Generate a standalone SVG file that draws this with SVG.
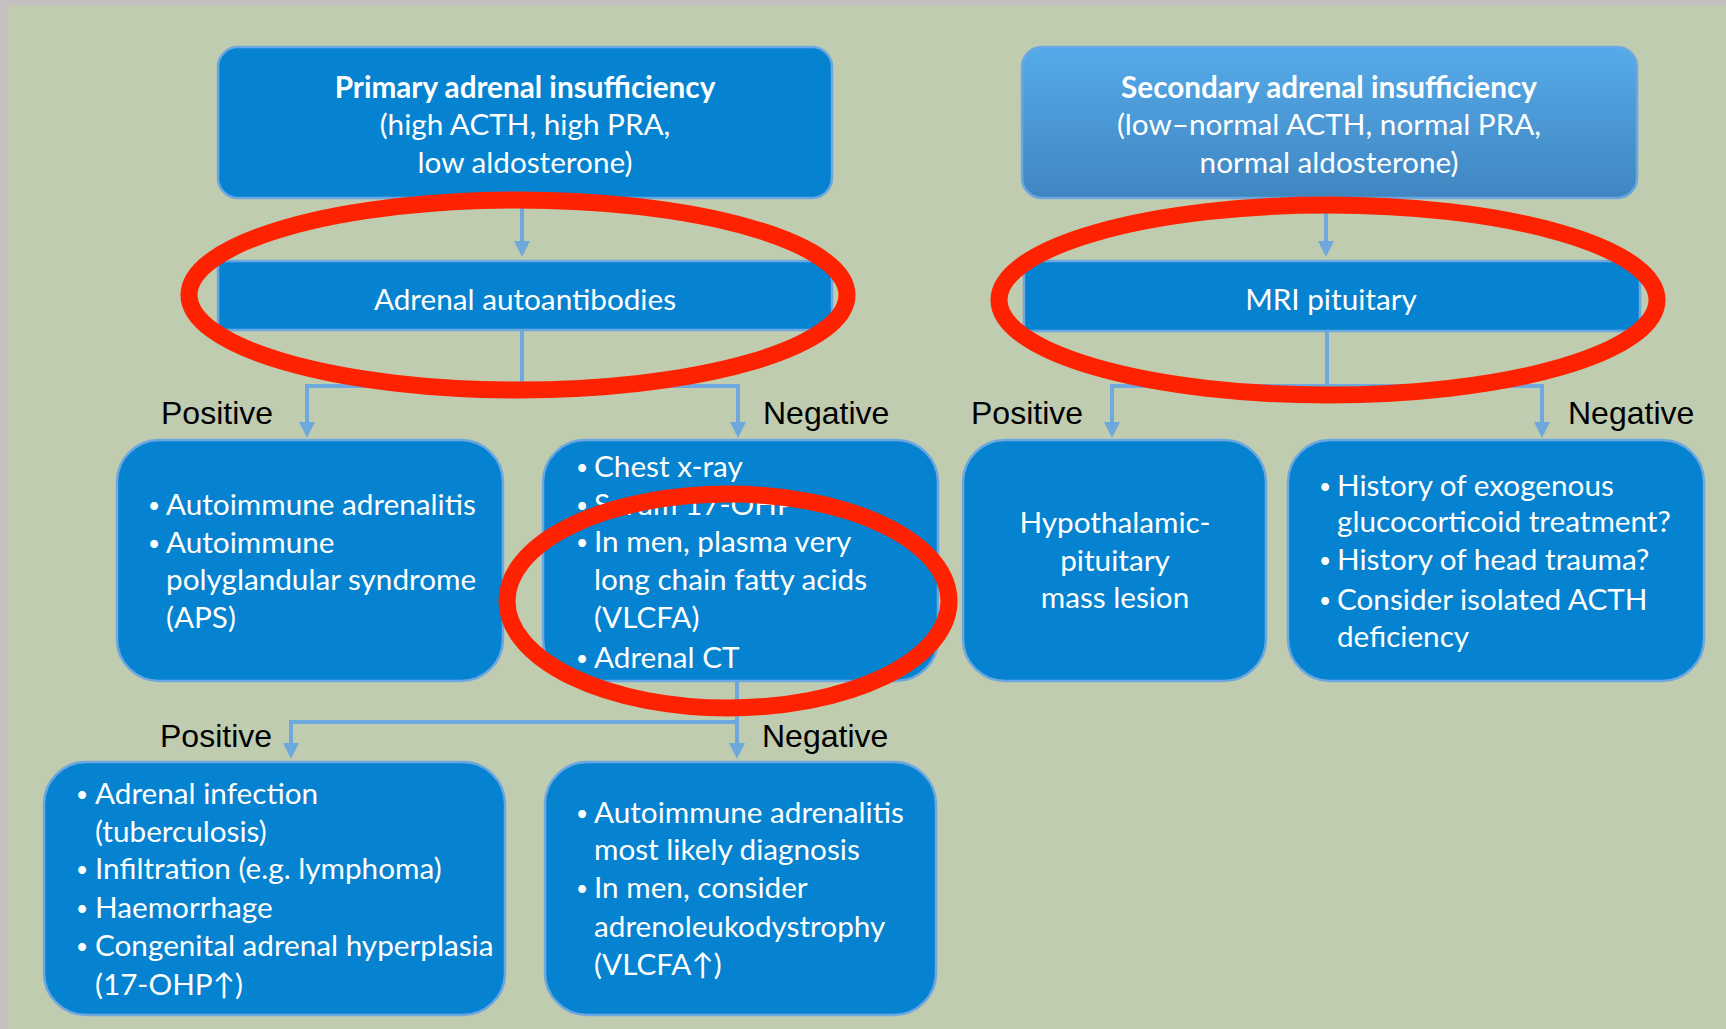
<svg xmlns="http://www.w3.org/2000/svg" width="1726" height="1029" viewBox="0 0 1726 1029">
<defs>
<linearGradient id="gSec" x1="0" y1="0" x2="0" y2="1">
<stop offset="0" stop-color="#56AAE9"/>
<stop offset="1" stop-color="#3F86C1"/>
</linearGradient>
<marker id="arr" viewBox="0 0 16 16" markerUnits="userSpaceOnUse" markerWidth="16" markerHeight="16" refX="0" refY="8" orient="auto">
<path d="M0 0 L16 8 L0 16 z" fill="#6FA8DC"/>
</marker>
</defs>
<style>
.box{fill:#0683D0;stroke:#6CA7E0;stroke-width:2.5}
.sec{fill:url(#gSec);stroke:#6CA7E0;stroke-width:2.5}
.t{font-family:Lato,"Open Sans","Liberation Sans",sans-serif;font-size:29.7px;fill:#FFFFFF}
.c{text-anchor:middle}
.b{font-weight:bold}
.bu{font-family:Lato,"Liberation Sans",sans-serif;font-size:21px;fill:#FFFFFF}
.lbl{font-family:"Liberation Sans",Arial,sans-serif;font-size:32px;fill:#000000}
.con{fill:none;stroke:#6FA8DC;stroke-width:4}
.ring{fill:none;stroke:#FF2200;stroke-width:17}
</style>
<rect x="0" y="0" width="1726" height="1029" fill="#C5C1C0"/>
<rect x="8" y="6" width="1718" height="1023" fill="#BFCCB0"/>

<g id="connectors">
<path class="con" d="M522 198 V241" marker-end="url(#arr)"/>
<path class="con" d="M522 330 V386 H307 V422" marker-end="url(#arr)"/>
<path class="con" d="M522 386 H738 V422" marker-end="url(#arr)"/>
<path class="con" d="M1326 198 V241" marker-end="url(#arr)"/>
<path class="con" d="M1327 331 V386 H1112 V422" marker-end="url(#arr)"/>
<path class="con" d="M1327 386 H1542 V422" marker-end="url(#arr)"/>
<path class="con" d="M737 681 V722 H291 V743" marker-end="url(#arr)"/>
<path class="con" d="M737 722 V743" marker-end="url(#arr)"/>
</g>

<g id="labels">
<text class="lbl" x="161" y="424">Positive</text>
<text class="lbl" x="763" y="424">Negative</text>
<text class="lbl" x="971" y="424">Positive</text>
<text class="lbl" x="1568" y="424">Negative</text>
<text class="lbl" x="160" y="747">Positive</text>
<text class="lbl" x="762" y="747">Negative</text>
</g>

<g id="primary">
<rect class="box" x="218" y="47" width="614" height="151" rx="20"/>
<text class="t c b" x="525" y="98">Primary adrenal insufficiency</text>
<text class="t c" x="525" y="135">(high ACTH, high PRA,</text>
<text class="t c" x="525" y="173">low aldosterone)</text>
</g>

<g id="secondary">
<rect class="sec" x="1022" y="47" width="615" height="151" rx="20"/>
<text class="t c b" x="1329" y="98">Secondary adrenal insufficiency</text>
<text class="t c" x="1329" y="135">(low–normal ACTH, normal PRA,</text>
<text class="t c" x="1329" y="173">normal aldosterone)</text>
</g>

<g id="autoantibodies">
<rect class="box" x="218" y="261" width="614" height="69" rx="4"/>
<text class="t c" x="525" y="310">Adrenal autoantibodies</text>
</g>

<g id="mri">
<rect class="box" x="1024" y="261" width="616" height="70" rx="4"/>
<text class="t c" x="1331" y="310">MRI pituitary</text>
</g>

<g id="autoimmune">
<rect class="box" x="117" y="440" width="386" height="241" rx="42"/>
<text class="bu" x="148" y="513">•</text>
<text class="t" x="166" y="515">Autoimmune adrenalitis</text>
<text class="bu" x="148" y="551">•</text>
<text class="t" x="166" y="553">Autoimmune</text>
<text class="t" x="166" y="590">polyglandular syndrome</text>
<text class="t" x="166" y="628">(APS)</text>
</g>

<g id="tests">
<rect class="box" x="543" y="440" width="395" height="241" rx="42"/>
<text class="bu" x="576" y="475">•</text>
<text class="t" x="594" y="477">Chest x-ray</text>
<text class="bu" x="576" y="513">•</text>
<text class="t" x="594" y="515">Serum 17-OHP</text>
<text class="bu" x="576" y="550">•</text>
<text class="t" x="594" y="552">In men, plasma very</text>
<text class="t" x="594" y="590">long chain fatty acids</text>
<text class="t" x="594" y="628">(VLCFA)</text>
<text class="bu" x="576" y="666">•</text>
<text class="t" x="594" y="668">Adrenal CT</text>
</g>

<g id="mass">
<rect class="box" x="963" y="440" width="303" height="241" rx="42"/>
<text class="t c" x="1115" y="533">Hypothalamic-</text>
<text class="t c" x="1115" y="571">pituitary</text>
<text class="t c" x="1115" y="608">mass lesion</text>
</g>

<g id="history">
<rect class="box" x="1288" y="440" width="416" height="241" rx="42"/>
<text class="bu" x="1319" y="494">•</text>
<text class="t" x="1337" y="496">History of exogenous</text>
<text class="t" x="1337" y="532">glucocorticoid treatment?</text>
<text class="bu" x="1319" y="568">•</text>
<text class="t" x="1337" y="570">History of head trauma?</text>
<text class="bu" x="1319" y="608">•</text>
<text class="t" x="1337" y="610">Consider isolated ACTH</text>
<text class="t" x="1337" y="647">deficiency</text>
</g>

<g id="causes">
<rect class="box" x="44" y="762" width="461" height="253" rx="42"/>
<text class="bu" x="76" y="802">•</text>
<text class="t" x="95" y="804">Adrenal infection</text>
<text class="t" x="95" y="842">(tuberculosis)</text>
<text class="bu" x="76" y="877">•</text>
<text class="t" x="95" y="879">Infiltration (e.g. lymphoma)</text>
<text class="bu" x="76" y="916">•</text>
<text class="t" x="95" y="918">Haemorrhage</text>
<text class="bu" x="76" y="954">•</text>
<text class="t" x="95" y="956">Congenital adrenal hyperplasia</text>
<text class="t" x="95" y="995">(17-OHP↑)</text>
</g>

<g id="likely">
<rect class="box" x="545" y="762" width="391" height="253" rx="42"/>
<text class="bu" x="576" y="821">•</text>
<text class="t" x="594" y="823">Autoimmune adrenalitis</text>
<text class="t" x="594" y="860">most likely diagnosis</text>
<text class="bu" x="576" y="896">•</text>
<text class="t" x="594" y="898">In men, consider</text>
<text class="t" x="594" y="937">adrenoleukodystrophy</text>
<text class="t" x="594" y="975">(VLCFA↑)</text>
</g>

<g id="highlights">
<ellipse class="ring" cx="518" cy="295" rx="329" ry="95"/>
<ellipse class="ring" cx="1328" cy="300" rx="329" ry="95"/>
<ellipse class="ring" cx="728" cy="601" rx="221" ry="107"/>
</g>
</svg>
